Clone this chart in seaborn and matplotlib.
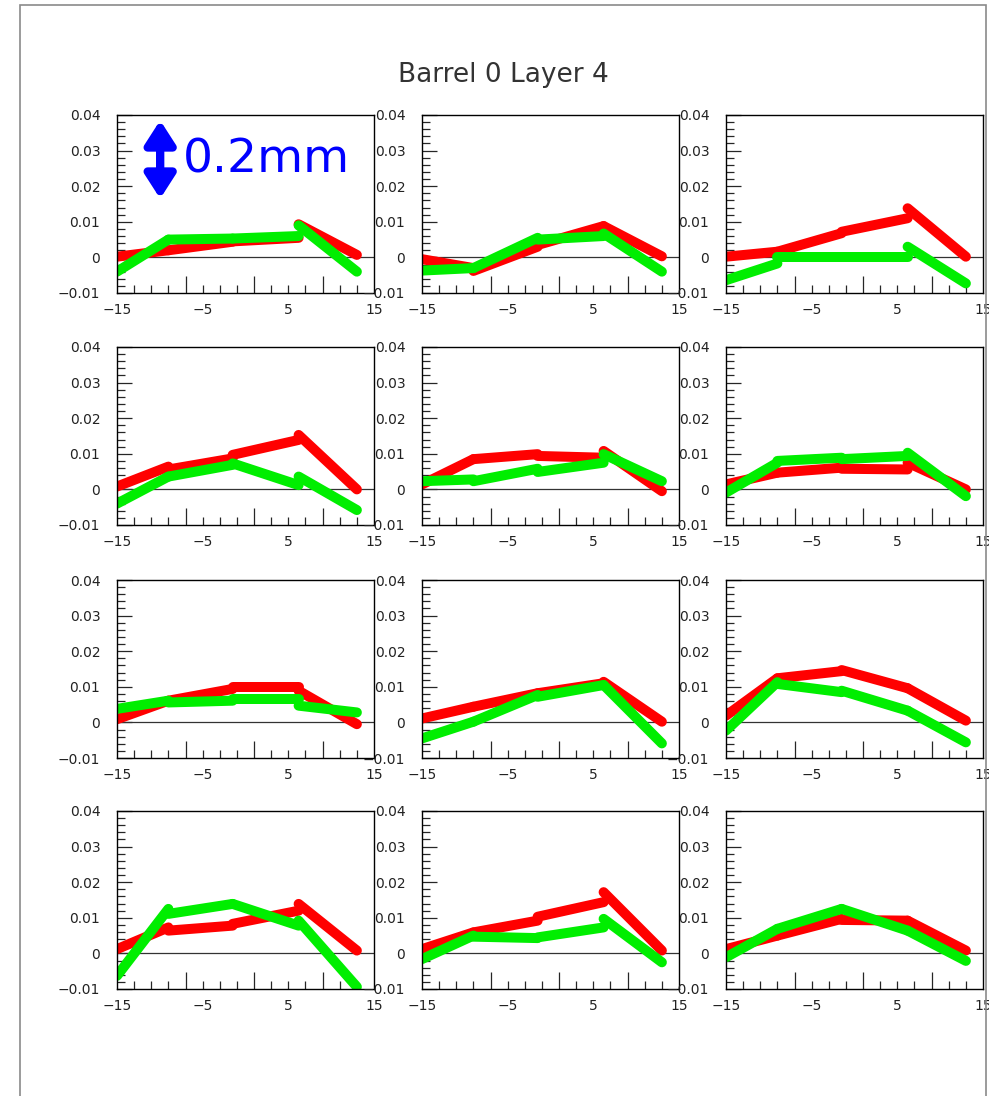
import numpy as np
import pandas as pd
import matplotlib
matplotlib.use("Agg")
import matplotlib.pyplot as plt
import matplotlib.ticker as mticker
from matplotlib.patches import Rectangle
import seaborn as sns

# ── Dados: 12 módulos, cada curva em 4 segmentos (início/fim) ─────────
TITULO = "Barrel 0 Layer 4"
SEG_X = [-15, -9, -9, -1.5, -1.5, 6.2, 6.2, 13]
SEG_ID = [0, 0, 1, 1, 2, 2, 3, 3]

RED = [
    [0.0002, 0.0020, 0.0020, 0.0044, 0.0045, 0.0055, 0.0093, 0.0007],
    [-0.0005, -0.0030, -0.0038, 0.0030, 0.0035, 0.0088, 0.0088, 0.0003],
    [0.0002, 0.0016, 0.0016, 0.0068, 0.0072, 0.0110, 0.0138, 0.0002],
    [0.0008, 0.0064, 0.0056, 0.0087, 0.0097, 0.0139, 0.0153, 0.0000],
    [0.0014, 0.0085, 0.0085, 0.0099, 0.0094, 0.0089, 0.0108, -0.0005],
    [0.0014, 0.0047, 0.0047, 0.0061, 0.0058, 0.0056, 0.0075, 0.0000],
    [0.0009, 0.0061, 0.0061, 0.0094, 0.0099, 0.0099, 0.0089, -0.0005],
    [0.0011, 0.0044, 0.0044, 0.0082, 0.0082, 0.0110, 0.0114, 0.0002],
    [0.0019, 0.0124, 0.0124, 0.0144, 0.0147, 0.0096, 0.0096, 0.0005],
    [0.0012, 0.0073, 0.0064, 0.0078, 0.0083, 0.0120, 0.0139, 0.0008],
    [0.0012, 0.0059, 0.0059, 0.0092, 0.0103, 0.0144, 0.0172, 0.0008],
    [0.0012, 0.0050, 0.0050, 0.0097, 0.0094, 0.0092, 0.0092, 0.0008],
]
GREEN = [
    [-0.0040, 0.0050, 0.0050, 0.0053, 0.0053, 0.0060, 0.0090, -0.0040],
    [-0.0037, -0.0030, -0.0030, 0.0055, 0.0050, 0.0060, 0.0067, -0.0040],
    [-0.0064, -0.0017, 0.0002, 0.0002, 0.0000, 0.0000, 0.0030, -0.0073],
    [-0.0040, 0.0036, 0.0036, 0.0069, 0.0073, 0.0012, 0.0036, -0.0058],
    [0.0023, 0.0028, 0.0023, 0.0058, 0.0049, 0.0075, 0.0099, 0.0023],
    [-0.0009, 0.0075, 0.0080, 0.0089, 0.0085, 0.0094, 0.0103, -0.0019],
    [0.0038, 0.0061, 0.0056, 0.0061, 0.0066, 0.0066, 0.0047, 0.0028],
    [-0.0045, 0.0002, 0.0002, 0.0077, 0.0072, 0.0105, 0.0105, -0.0059],
    [-0.0023, 0.0113, 0.0108, 0.0085, 0.0089, 0.0033, 0.0033, -0.0056],
    [-0.0063, 0.0125, 0.0111, 0.0139, 0.0139, 0.0078, 0.0092, -0.0094],
    [-0.0016, 0.0050, 0.0047, 0.0043, 0.0045, 0.0073, 0.0097, -0.0025],
    [-0.0011, 0.0069, 0.0069, 0.0125, 0.0125, 0.0064, 0.0064, -0.0021],
]

Y_TICKS = [-0.01, 0, 0.01, 0.02, 0.03, 0.04]
Y_LABELS = ["\u22120.01", "0", "0.01", "0.02", "0.03", "0.04"]
X_LABEL_TICKS = [-15, -5, 5, 15]
X_LABELS = ["\u221215", "\u22125", "5", "15"]
X_MAJOR = [-7, 1, 9]
X_MINOR = [-13, -11, -9, -5, -3, -1, 3, 5, 7, 11, 13]

CORES = {"red": "#FF0000", "green": "#00EE00"}

linhas = []
for p in range(12):
    for serie, vals in (("red", RED[p]), ("green", GREEN[p])):
        for x, y, s in zip(SEG_X, vals, SEG_ID):
            linhas.append({"painel": p, "serie": serie, "seg": s, "x": x, "y": y})
df = pd.DataFrame(linhas)

# ── Figura ───────────────────────────────────────────────────────────
sns.set_style("white")
plt.rcParams["font.family"] = ["DejaVu Sans"]

W, H = 989, 1096
fig = plt.figure(figsize=(W / 100, H / 100), dpi=100)

# moldura do canvas
fig.patches.append(Rectangle((20 / W, -0.05), 966 / W, 1.05 - 5 / H,
                             transform=fig.transFigure, fill=False,
                             edgecolor="#8a8a8a", linewidth=1.2))

fig.text(503 / W, 1 - 75 / H, TITULO, ha="center", va="center",
         fontsize=19, color="#333333")

col_left = [117, 422, 726]
row_top = [115, 347, 580, 811]
aw, ah = 257, 178

axes = []
for p in range(12):
    r, c = divmod(p, 3)
    ax = fig.add_axes([col_left[c] / W, 1 - (row_top[r] + ah) / H, aw / W, ah / H])
    axes.append(ax)
    sub = df[df["painel"] == p]
    sns.lineplot(data=sub, x="x", y="y", hue="serie", units="seg",
                 estimator=None, sort=False, palette=CORES,
                 hue_order=["red", "green"], linewidth=7.2,
                 solid_capstyle="round", legend=False, ax=ax)
    ax.axhline(0, color="#333333", linewidth=0.9, zorder=1)
    ax.set_xlim(-15, 15)
    ax.set_ylim(-0.01, 0.04)
    ax.set_xlabel("")
    ax.set_ylabel("")

    for sp in ax.spines.values():
        sp.set_visible(True)
        sp.set_color("black")
        sp.set_linewidth(1.0)

    ax.yaxis.set_major_locator(mticker.FixedLocator(Y_TICKS))
    ax.yaxis.set_major_formatter(mticker.FixedFormatter(Y_LABELS))
    ax.yaxis.set_minor_locator(mticker.MultipleLocator(0.002))
    ax.tick_params(axis="y", which="major", direction="in", length=11,
                   width=0.9, pad=12, labelsize=10, labelcolor="#222222",
                   left=True, right=False)
    ax.tick_params(axis="y", which="minor", direction="in", length=6,
                   width=0.9, left=True, right=False)

    ax.xaxis.set_major_locator(mticker.FixedLocator(X_MAJOR))
    ax.xaxis.set_minor_locator(mticker.FixedLocator(X_MINOR))
    ax.xaxis.set_major_formatter(mticker.NullFormatter())
    ax.tick_params(axis="x", which="major", direction="in", length=12,
                   width=0.9, bottom=True, top=False)
    ax.tick_params(axis="x", which="minor", direction="in", length=6,
                   width=0.9, bottom=True, top=False)

    sec = ax.secondary_xaxis("bottom")
    sec.set_xticks(X_LABEL_TICKS)
    sec.set_xticklabels(X_LABELS)
    sec.tick_params(length=0, pad=7, labelsize=10, labelcolor="#222222")
    sec.spines["bottom"].set_visible(False)

# seta de escala 0.2mm no primeiro painel
ax0 = axes[0]
ax0.annotate("", xy=(0.168, 0.97), xytext=(0.168, 0.53),
             xycoords="axes fraction",
             arrowprops=dict(arrowstyle="<|-|>,head_length=0.7,head_width=0.45",
                             color="#0000FF", lw=6, mutation_scale=20,
                             shrinkA=0, shrinkB=0))
ax0.text(0.255, 0.745, "0.2mm", transform=ax0.transAxes, ha="left",
         va="center", fontsize=34, color="#0000FF")

fig.savefig("out.png", dpi=100)
